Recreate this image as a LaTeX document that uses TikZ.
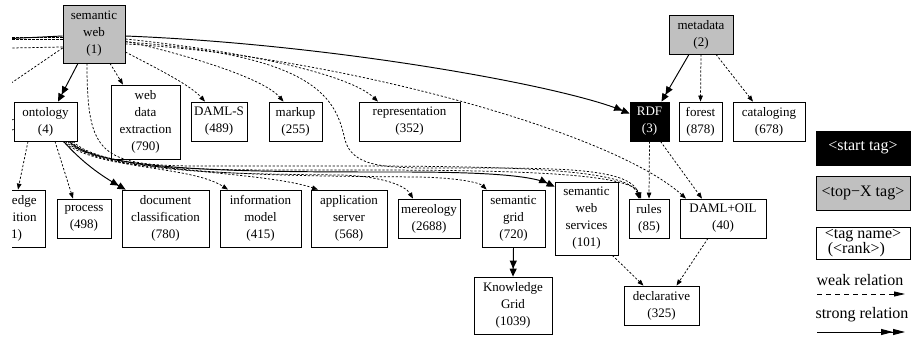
\documentclass[tikz,border=0pt]{standalone}
\usepackage{fontspec}
\setmainfont{Liberation Serif}
\usetikzlibrary{arrows.meta,calc}
\definecolor{tagGray}{RGB}{192,192,192}
\begin{document}
\begin{tikzpicture}[x=1pt,y=-1pt,
  tag/.style={draw=black,line width=0.8pt,align=center,font=\fontsize{13}{17}\selectfont,inner sep=0pt,fill=white},
  topx/.style={tag,fill=tagGray},
  starttag/.style={tag,fill=black,text=white},
  legtext/.style={font=\fontsize{16}{16}\selectfont,inner sep=0pt},
  weak/.style={line width=0.75pt,dash pattern=on 2.2pt off 1.8pt,-{Triangle[length=6pt,width=4.5pt]}},
  strong/.style={line width=0.95pt,-{Triangle[length=8pt,width=7pt]Triangle[length=8pt,width=7pt]}},
  legweak/.style={line width=0.8pt,dash pattern=on 5pt off 4pt,-{Triangle[length=11pt,width=5pt]}},
  legstrong/.style={line width=0.95pt,-{Triangle[length=12pt,width=6pt]Triangle[length=12pt,width=6pt]}}]
\useasboundingbox (0,0) rectangle (911,337);
\begin{scope}
\clip (12,0) rectangle (911,337);
% nodes
\node[topx,minimum width=62pt,minimum height=58pt] (sw) at (94,34) {semantic\\web\\(1)};
\node[tag,minimum width=63pt,minimum height=39pt] (onto) at (45.5,121.5) {ontology\\(4)};
\node[tag,minimum width=69pt,minimum height=74pt] (wde) at (145.5,122) {web\\data\\extraction\\(790)};
\node[tag,minimum width=56pt,minimum height=39pt] (damls) at (219,121.5) {DAML-S\\(489)};
\node[tag,minimum width=53pt,minimum height=39pt] (markup) at (295.5,121.5) {markup\\(255)};
\node[tag,minimum width=101pt,minimum height=39pt] (repr) at (409.5,121.5) {representation\\(352)};
\node[starttag,minimum width=39pt,minimum height=39pt] (rdf) at (649.5,121.5) {RDF\\(3)};
\node[tag,minimum width=43pt,minimum height=39pt] (forest) at (700.5,121.5) {forest\\(878)};
\node[tag,minimum width=72pt,minimum height=39pt] (catal) at (769,121.5) {cataloging\\(678)};
\node[topx,minimum width=64pt,minimum height=39pt] (meta) at (701,34.5) {metadata\\(2)};
\node[tag,minimum width=74pt,minimum height=57pt] (ka) at (8,218.5) {knowledge\\acquisition\\(371)};
\node[tag,minimum width=54pt,minimum height=39pt] (process) at (84,218.5) {process\\(498)};
\node[tag,minimum width=87pt,minimum height=57pt] (docc) at (165.5,218.5) {document\\classification\\(780)};
\node[tag,minimum width=81pt,minimum height=57pt] (infom) at (260.5,218.5) {information\\model\\(415)};
\node[tag,minimum width=76pt,minimum height=57pt] (apps) at (349,218.5) {application\\server\\(568)};
\node[tag,minimum width=62pt,minimum height=39pt] (mere) at (429,218.5) {mereology\\(2688)};
\node[tag,minimum width=63pt,minimum height=57pt] (sgrid) at (513.5,218.5) {semantic\\grid\\(720)};
\node[tag,minimum width=63pt,minimum height=73pt] (sws) at (586.5,218.5) {semantic\\web\\services\\(101)};
\node[tag,minimum width=40pt,minimum height=39pt] (rules) at (649,218.5) {rules\\(85)};
\node[tag,minimum width=86pt,minimum height=39pt] (doil) at (723,218.5) {DAML+OIL\\(40)};
\node[tag,minimum width=78pt,minimum height=57pt] (kgrid) at (513,305.5) {Knowledge\\Grid\\(1039)};
\node[tag,minimum width=75pt,minimum height=39pt] (decl) at (661.5,305.5) {declarative\\(325)};
% off-canvas coordinates for clipped edges
\coordinate (offA) at (-40,37);
\coordinate (offB) at (-40,39);
\coordinate (offC) at (-40,41);
\coordinate (offD) at (-40,49);
\coordinate (offF) at (-40,118);
\coordinate (offG) at (-30,128);
\coordinate (offH) at (-30,142);
% edges from semantic web
\draw[strong] ($(sw.south)+(-16,0)$) -- ($(onto.north)+(12.5,0)$);
\draw[weak] ($(sw.south)+(16,0)$) -- ($(wde.north)+(-22.5,0)$);
\draw[weak] ($(sw.east)+(0,18)$) .. controls (160,70) and (190,85) .. ($(damls.north)+(-14,0)$);
\draw[weak] ($(sw.east)+(0,7)$) .. controls (200,58) and (265,80) .. ($(markup.north)+(-12,0)$);
\draw[weak] ($(sw.east)+(0,5)$) .. controls (250,52) and (350,75) .. ($(repr.north)+(-31.5,0)$);
\draw[strong] ($(sw.east)+(0,2)$) .. controls (330,44) and (560,85) .. ($(rdf.west)+(0,-8)$);
\draw[weak] ($(sw.east)+(0,10)$) .. controls (330,55) and (610,130) .. ($(doil.north)+(-37,0)$);
\draw[weak] ($(sw.east)+(0,8)$) .. controls (320,55) and (336,100) .. (345,140)
   .. controls (352,165) and (380,168) .. (430,168)
   .. controls (550,168) and (630,166) .. ($(rules.north)+(-9,0)$);
\draw[weak] ($(sw.south)+(-7,0)$) .. controls (87,155) and (100,166) .. (200,166)
   .. controls (450,166) and (628,163) .. ($(rules.north)+(-10,0)$);
\draw[line width=0.95pt] ($(sw.west)+(0,2)$) -- (offC);
\draw[weak] ($(sw.west)+(0,3)$) -- (offA);
\draw[weak] ($(sw.west)+(0,5)$) -- (offB);
\draw[weak] ($(sw.west)+(0,13)$) -- (offD);
\draw[weak] ($(sw.west)+(0,14)$) -- (offF);
% edges from ontology
\draw[weak] ($(onto.south)+(-17.5,0)$) -- ($(ka.north)+(10,0)$);
\draw[weak] ($(onto.south)+(9.5,0)$) -- ($(process.north)+(-11,0)$);
\draw[strong] ($(onto.south)+(18,0)$) .. controls (82,162) and (100,175) .. ($(docc.north west)+(4,0)$);
\draw[weak] ($(onto.south)+(17.5,0)$) .. controls (95,170) and (190,165) .. ($(infom.north)+(-32.5,0)$);
\draw[weak] ($(onto.south)+(19.5,0)$) .. controls (100,172) and (260,170) .. ($(apps.north)+(-31,0)$);
\draw[weak] ($(onto.south)+(22,0)$) .. controls (100,172) and (200,170) .. (350,170)
   .. controls (500,170) and (632,172) .. ($(rules.north)+(-8,0)$);
\draw[strong] ($(onto.south)+(23.5,0)$) .. controls (100,172) and (250,172) .. (400,172)
   .. controls (480,172) and (530,175) .. ($(sws.north west)+(0,5)$);
\draw[weak] ($(onto.south)+(25.5,0)$) .. controls (100,174) and (250,174) .. (340,175)
   .. controls (380,176) and (405,185) .. ($(mere.north)+(-16,0)$);
\draw[weak] ($(onto.south)+(27.5,0)$) .. controls (105,176) and (300,176) .. (420,177)
   .. controls (460,178) and (480,183) .. ($(sgrid.north west)+(5,0)$);
\draw[weak] ($(onto.west)+(0,-2)$) -- (offG);
\draw[weak] ($(onto.west)+(0,8)$) -- (offH);
% other edges
\draw[strong] ($(meta.south)+(-12,0)$) -- ($(rdf.north)+(12,0)$);
\draw[weak] (meta.south) -- (forest.north);
\draw[weak] ($(meta.south)+(15,0)$) -- ($(catal.north)+(-16,0)$);
\draw[weak] (rdf.south) -- (rules.north);
\draw[weak] ($(rdf.south)+(11,0)$) -- ($(doil.north)+(-21,0)$);
\draw[weak] ($(sws.south east)+(-6,0)$) -- ($(decl.north)+(-18,0)$);
\draw[weak] ($(doil.south)+(-15,0)$) -- ($(decl.north)+(15,0)$);
\draw[strong] (sgrid.south) -- (kgrid.north);
% legend
\node[starttag,minimum width=94pt,minimum height=34pt,font=\fontsize{16}{16}\selectfont] (lstart) at (863,148) {<start tag>};
\node[topx,minimum width=94pt,minimum height=34pt,font=\fontsize{16}{16}\selectfont] (ltop) at (863,193) {<top−X tag>};
\node[tag,minimum width=94pt,minimum height=32pt,font=\fontsize{16}{15}\selectfont,align=left] (lname) at (863,243) {<tag name>\\\hspace{3pt}(<rank>)};
\node[legtext] (lweak) at (860,280) {weak relation};
\coordinate (lw1) at (817,294);
\coordinate (lw2) at (905,294);
\draw[legweak] (lw1) -- (lw2);
\node[legtext] (lstrong) at (862,315) {strong relation};
\coordinate (ls1) at (817,332);
\coordinate (ls2) at (905,332);
\draw[legstrong] (ls1) -- (ls2);
\end{scope}
\end{tikzpicture}
\end{document}
